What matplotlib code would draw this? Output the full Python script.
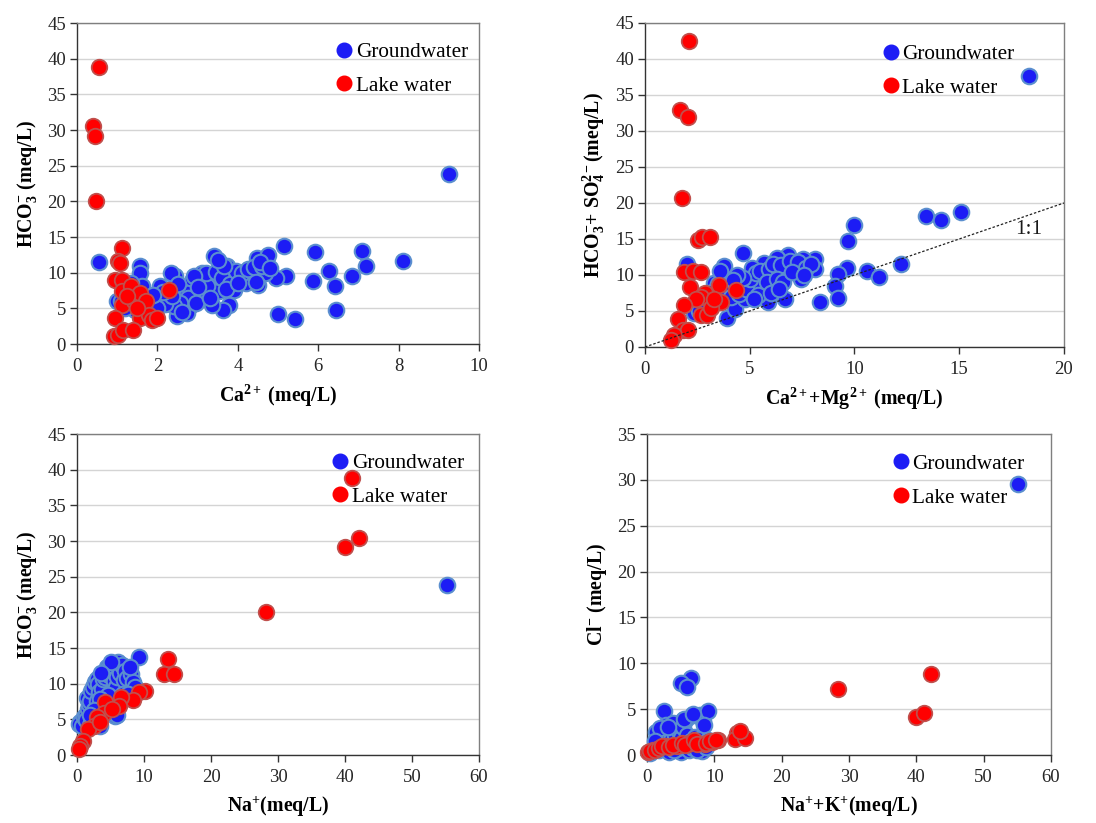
import matplotlib
matplotlib.use("Agg")
import matplotlib.pyplot as plt
from matplotlib.lines import Line2D
import numpy as np

plt.rcParams['font.family'] = ['Liberation Serif', 'DejaVu Serif']
plt.rcParams['mathtext.fontset'] = 'custom'
plt.rcParams['mathtext.rm'] = 'Liberation Serif'
plt.rcParams['mathtext.bf'] = 'Liberation Serif:bold'
plt.rcParams['mathtext.it'] = 'Liberation Serif:italic'
plt.rcParams['mathtext.default'] = 'regular'

# ---------------- Panel 1: Ca2+ vs HCO3- ----------------
p1_gw_ca = [0.54, 9.24, 5.16, 5.93, 7.10, 7.18, 8.11, 6.27, 6.41, 6.85, 5.86, 5.19, 4.95, 5.00, 5.43, 6.45,
            4.72, 4.47, 4.68, 4.51, 4.30, 4.00, 3.90, 3.77, 3.64, 3.41, 3.56, 3.73, 3.35, 3.53, 3.36, 2.98,
            3.05, 2.86, 2.81, 2.61, 2.44, 2.33, 2.48, 2.73, 2.07, 1.95, 1.57, 1.57, 1.61, 0.99, 1.32, 3.15,
            3.23, 4.06, 4.20, 2.73, 2.24, 1.82, 3.10, 3.20, 3.45, 3.60, 3.80, 3.95, 4.10, 4.25, 4.40, 4.60,
            4.75, 4.55, 3.65, 3.50, 2.90, 2.75, 2.55, 2.40, 2.20, 2.00, 1.70, 1.45, 1.20, 1.10, 1.35, 1.25,
            2.60, 2.95, 3.30, 3.70, 4.00, 2.35, 2.15, 4.45, 4.80, 3.00, 2.50, 1.90]
p1_gw_hco3 = [11.5, 23.9, 13.8, 12.9, 13.1, 11.0, 11.7, 10.3, 8.2, 9.6, 8.9, 9.5, 9.3, 4.2, 3.5, 4.7,
              12.2, 12.0, 9.9, 8.3, 9.2, 9.9, 7.6, 5.4, 4.8, 12.4, 11.3, 10.9, 9.65, 7.4, 5.4, 6.7,
              9.1, 8.8, 5.3, 7.4, 9.6, 9.9, 3.9, 4.3, 8.1, 5.7, 10.9, 9.9, 8.1, 6.0, 5.3, 7.1,
              8.1, 9.0, 8.6, 7.1, 6.2, 6.0, 9.9, 10.0, 10.1, 9.3, 8.4, 10.3, 10.0, 10.5, 10.8, 11.0,
              12.5, 11.5, 11.0, 11.8, 9.5, 6.5, 5.8, 5.3, 5.6, 5.0, 4.6, 4.8, 5.0, 6.0, 8.5, 7.0,
              4.5, 5.8, 6.5, 7.7, 8.5, 6.8, 7.3, 8.7, 10.6, 8.0, 8.4, 6.9]
p1_lw_ca = [0.55, 0.40, 0.44, 0.46, 1.12, 1.03, 1.06, 0.95, 1.12, 1.12, 1.35, 1.12, 1.41, 1.57, 1.71,
            1.57, 1.80, 1.86, 1.99, 0.95, 0.91, 1.01, 1.14, 1.39, 2.29, 1.50, 1.24]
p1_lw_hco3 = [38.8, 30.5, 29.2, 20.1, 13.4, 11.6, 11.4, 9.0, 9.0, 7.4, 8.1, 5.5, 6.0, 7.1, 6.0,
              3.6, 4.1, 3.4, 3.6, 3.6, 1.1, 1.3, 2.0, 2.0, 7.6, 5.0, 6.7]

# ---------------- Panel 2: Ca2+ + Mg2+ vs HCO3- + SO4 2- ----------------
p2_gw_camg = [18.34, 13.43, 14.15, 15.08, 9.96, 9.69, 9.64, 10.58, 11.17, 12.22, 9.22, 9.05, 9.23, 8.33,
              4.70, 2.01, 3.79, 6.66, 3.92, 4.30, 8.10, 8.10, 7.54, 7.43, 6.82, 6.82, 6.28, 6.28, 6.02,
              5.70, 5.47, 5.63, 5.10, 4.91, 4.75, 4.27, 4.03, 3.31, 3.16, 2.84, 2.36, 5.23, 5.87, 6.50,
              7.15, 4.43, 5.23, 3.50, 3.80, 4.10, 4.50, 4.80, 5.00, 5.30, 5.50, 5.90, 6.10, 6.50, 6.90,
              7.30, 7.70, 7.90, 5.40, 5.20, 4.70, 4.40, 3.20, 2.60, 3.00, 5.80, 6.30, 6.60, 7.00, 7.60,
              4.20, 3.60, 2.90, 6.00, 6.40]
p2_gw_hs = [37.6, 18.2, 17.6, 18.8, 16.9, 14.7, 11.0, 10.6, 9.7, 11.5, 10.1, 8.4, 6.8, 6.3,
            13.0, 11.5, 11.2, 6.7, 4.0, 5.3, 12.2, 10.8, 12.2, 9.5, 12.8, 11.0, 12.3, 10.0, 8.4,
            11.7, 9.8, 7.5, 11.0, 8.9, 6.6, 9.3, 8.0, 8.9, 6.6, 4.7, 4.7, 6.8, 6.3, 8.9,
            11.2, 9.7, 8.3, 8.7, 7.6, 7.0, 7.3, 8.0, 9.5, 10.3, 10.6, 10.8, 11.5, 11.4, 12.0,
            11.8, 11.0, 11.5, 7.2, 6.6, 9.6, 10.0, 7.6, 5.0, 5.5, 9.0, 9.5, 9.0, 10.4, 10.0,
            9.3, 10.5, 6.3, 7.5, 8.0]
p2_lw_camg = [2.09, 1.67, 2.04, 1.78, 2.52, 2.71, 3.11, 1.88, 2.28, 2.65, 2.17, 2.87, 3.51, 4.32, 2.65,
              3.63, 2.44, 1.88, 2.68, 2.97, 1.56, 1.80, 2.04, 1.40, 1.24, 3.16, 3.31]
p2_lw_hs = [42.5, 32.9, 32.0, 20.7, 14.8, 15.3, 15.3, 10.4, 10.5, 10.35, 8.3, 7.5, 8.6, 7.9, 7.0,
            6.3, 6.6, 5.8, 4.5, 4.5, 3.9, 2.4, 2.4, 1.7, 1.0, 5.4, 6.6]
ratio_line = [0, 20]

# ---------------- Panel 3: Na+ vs HCO3- ----------------
p3_gw_na = [55.2, 9.2, 6.1, 4.4, 7.7, 5.6, 5.0, 2.6, 2.2, 1.5, 2.5, 7.9, 0.5, 1.2, 3.5, 5.7, 3.5, 4.0,
            0.3, 0.8, 1.0, 1.3, 1.6, 1.8, 2.0, 2.1, 2.4, 2.7, 3.0, 3.2, 3.3, 3.7, 3.9, 4.2, 4.6, 4.8,
            5.2, 5.5, 5.8, 6.0, 6.4, 6.7, 7.0, 7.2, 7.5, 8.0, 8.3, 8.6, 3.0, 3.6, 4.0, 4.4, 4.9, 5.3,
            5.9, 2.3, 2.8, 1.4, 2.0, 6.3, 6.8, 7.6, 5.5, 4.6, 3.4, 2.6, 1.9, 5.0, 7.9, 3.6]
p3_gw_hco3 = [23.9, 13.8, 13.1, 12.4, 12.0, 11.3, 9.6, 9.3, 8.3, 8.0, 7.4, 9.3, 4.6, 4.6, 4.1, 5.5, 9.9, 10.4,
              4.4, 4.0, 5.3, 5.6, 6.5, 7.2, 7.6, 9.0, 9.6, 10.2, 10.7, 10.0, 8.8, 9.3, 10.6, 11.0, 12.1, 11.2,
              12.6, 10.4, 9.6, 10.9, 11.5, 12.6, 10.5, 11.8, 10.8, 11.3, 10.2, 9.5, 7.6, 7.0, 6.6, 6.2, 6.8, 6.0,
              5.6, 5.0, 4.5, 4.9, 4.2, 7.8, 8.6, 8.6, 8.0, 8.4, 7.9, 6.3, 5.6, 13.0, 12.4, 11.5]
p3_lw_na = [41.1, 40.0, 42.1, 28.2, 13.6, 13.0, 14.4, 10.2, 9.2, 8.4, 6.5, 6.2, 4.2, 4.0, 3.0, 2.6,
            1.6, 0.9, 0.5, 0.25, 5.2, 3.5]
p3_lw_hco3 = [38.8, 29.2, 30.4, 20.1, 13.4, 11.4, 11.4, 9.0, 8.8, 7.7, 8.2, 6.9, 7.5, 5.9, 5.3, 4.1,
              3.6, 2.0, 1.3, 0.8, 6.4, 4.6]

# ---------------- Panel 4: Na+ + K+ vs Cl- ----------------
p4_gw_nak = [55.1, 6.6, 5.1, 5.9, 2.5, 1.3, 2.8, 5.4, 6.9, 7.9, 8.3, 9.1, 7.9, 8.1, 4.9, 5.1,
             0.5, 1.0, 1.5, 1.8, 2.2, 2.6, 3.0, 3.3, 3.6, 3.8, 4.2, 4.6, 4.8, 5.0, 5.3, 5.6, 5.8,
             6.0, 6.3, 6.5, 6.9, 7.2, 7.5, 7.8, 8.2, 8.5, 8.8, 9.0, 2.0, 1.2, 3.1, 4.0, 5.5, 6.8]
p4_gw_cl = [29.5, 8.45, 7.9, 7.4, 4.75, 2.5, 3.3, 3.8, 4.4, 4.4, 3.7, 4.75, 1.6, 0.4, 1.7, 0.3,
            0.2, 0.8, 1.2, 0.5, 1.8, 1.1, 2.4, 0.3, 1.6, 3.5, 2.2, 0.8, 2.6, 1.9, 3.1, 1.0, 3.9,
            2.2, 0.5, 1.5, 0.8, 2.0, 0.6, 1.8, 1.2, 3.3, 0.9, 1.6, 2.9, 1.5, 3.1, 0.5, 3.9, 4.5]
p4_lw_nak = [28.4, 42.2, 40.0, 41.1, 13.4, 13.1, 14.6, 10.5, 9.6, 8.6, 6.6, 6.1, 4.5, 2.7, 0.9, 0.2,
             0.5, 1.2, 1.8, 2.2, 3.3, 3.8, 5.2, 5.6, 7.0, 7.5, 8.8, 9.3, 10.3, 13.8]
p4_lw_cl = [7.2, 8.8, 4.1, 4.6, 2.4, 1.7, 1.9, 1.6, 1.4, 1.2, 1.45, 1.2, 1.0, 1.0, 0.55, 0.3,
            0.4, 0.6, 0.8, 1.0, 0.9, 1.1, 1.3, 1.1, 1.6, 1.2, 1.3, 1.5, 1.65, 2.6]

# ---------------- styling ----------------
GW_FACE, GW_EDGE = '#1c1cf5', '#5b8fcf'
LW_FACE, LW_EDGE = '#ff0000', '#c0504d'
MS = 125
TICK_FS = 13.5
LAB_FS = 14.3
LEG_FS = 15.3

fig = plt.figure(figsize=(10.96, 8.23), dpi=100)

panels = [
    dict(rect=[0.0703, 0.582, 0.3668, 0.390], gx=p1_gw_ca, gy=p1_gw_hco3, lx=p1_lw_ca, ly=p1_lw_hco3,
         xlim=(0, 10), xt=np.arange(0, 11, 2), ylim=(0, 45), yt=np.arange(0, 46, 5),
         xlabel=r'Ca$^{2+}$ (meq/L)', ylabel=r'HCO$_3^{-}$ (meq/L)', leg=(0.666, 0.915)),
    dict(rect=[0.5885, 0.5784, 0.3823, 0.3937], gx=p2_gw_camg, gy=p2_gw_hs, lx=p2_lw_camg, ly=p2_lw_hs,
         xlim=(0, 20), xt=np.arange(0, 21, 5), ylim=(0, 45), yt=np.arange(0, 46, 5),
         xlabel=r'Ca$^{2+}$+Mg$^{2+}$ (meq/L)', ylabel=r'HCO$_3^{-}$+ SO$_4^{2-}$(meq/L)', leg=(0.588, 0.909)),
    dict(rect=[0.0703, 0.0826, 0.3668, 0.390], gx=p3_gw_na, gy=p3_gw_hco3, lx=p3_lw_na, ly=p3_lw_hco3,
         xlim=(0, 60), xt=np.arange(0, 61, 10), ylim=(0, 45), yt=np.arange(0, 46, 5),
         xlabel=r'Na$^{+}$(meq/L)', ylabel=r'HCO$_3^{-}$ (meq/L)', leg=(0.656, 0.915)),
    dict(rect=[0.5903, 0.0826, 0.3686, 0.390], gx=p4_gw_nak, gy=p4_gw_cl, lx=p4_lw_nak, ly=p4_lw_cl,
         xlim=(0, 60), xt=np.arange(0, 61, 10), ylim=(0, 35), yt=np.arange(0, 36, 5),
         xlabel=r'Na$^{+}$+K$^{+}$(meq/L)', ylabel=r'Cl$^{-}$ (meq/L)', leg=(0.629, 0.913)),
]

for i, p in enumerate(panels):
    ax = fig.add_axes(p['rect'])
    ax.set_xlim(*p['xlim'])
    ax.set_ylim(*p['ylim'])
    ax.set_xticks(p['xt'])
    ax.set_yticks(p['yt'])
    ax.grid(axis='y', color='#d4d4d4', linewidth=1.0, zorder=0)
    ax.set_axisbelow(True)
    for s in ['left', 'bottom']:
        ax.spines[s].set_color('#333333')
        ax.spines[s].set_linewidth(1.0)
    for s in ['top', 'right']:
        ax.spines[s].set_color('#7f7f7f')
        ax.spines[s].set_linewidth(1.0)
    ax.tick_params(axis='both', direction='out', length=5, width=1.0, color='#333333',
                   labelsize=TICK_FS, labelcolor='#262626', pad=3)
    ax.tick_params(axis='x', pad=5)

    ax.scatter(p['gx'], p['gy'], s=MS, c=GW_FACE, edgecolors=GW_EDGE, linewidths=1.5, zorder=3, clip_on=False)
    ax.scatter(p['lx'], p['ly'], s=MS, c=LW_FACE, edgecolors=LW_EDGE, linewidths=1.3, zorder=4, clip_on=False)

    if i == 1:
        ax.plot(ratio_line, ratio_line, linestyle=(0, (2, 1.5)), color='#222222', linewidth=0.9, zorder=5)
        ax.text(18.3, 16.3, '1:1', fontsize=LEG_FS, ha='center', va='center', color='#1a1a1a')

    ax.set_xlabel(p['xlabel'], fontsize=LAB_FS, fontweight='bold', labelpad=6)
    ax.set_ylabel(p['ylabel'], fontsize=LAB_FS, fontweight='bold', labelpad=6)

    handles = [Line2D([], [], marker='o', linestyle='none', markersize=10.5,
                      markerfacecolor=GW_FACE, markeredgecolor=GW_FACE, label='Groundwater'),
               Line2D([], [], marker='o', linestyle='none', markersize=10.5,
                      markerfacecolor=LW_FACE, markeredgecolor=LW_FACE, label='Lake water')]
    lx, ly = p['leg']
    ax.legend(handles=handles, loc='upper left', bbox_to_anchor=(lx - 0.022, ly + 0.025),
              frameon=False, fontsize=LEG_FS, handlelength=0.8, handletextpad=0.15,
              labelspacing=0.65, borderpad=0, borderaxespad=0)

fig.savefig('out.png', dpi=100)
